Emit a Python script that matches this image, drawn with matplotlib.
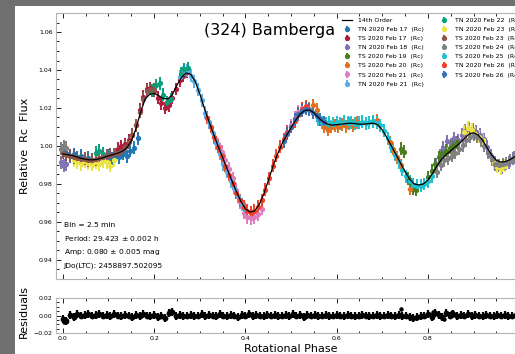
import numpy as np
import matplotlib
matplotlib.use('Agg')
import matplotlib.pyplot as plt
from matplotlib.patches import Rectangle
from matplotlib.ticker import MultipleLocator, FuncFormatter

# 14th order Fourier fit, every 0.01 in phase
fit_phase = np.round(np.arange(0.0, 1.0001, 0.01), 2)
fit_flux = [0.9958, 0.9955, 0.9950, 0.9943, 0.9935, 0.9930, 0.9927, 0.9928, 0.9933, 0.9940,
            0.9948, 0.9955, 0.9962, 0.9972, 0.9990, 1.0025, 1.0090, 1.0175, 1.0245, 1.0272,
            1.0277, 1.0265, 1.0250, 1.0248, 1.0270, 1.0320, 1.0360, 1.0385, 1.0378, 1.0340,
            1.0275, 1.0200, 1.0130, 1.0065, 1.0000, 0.9940, 0.9880, 0.9820, 0.9762, 0.9710,
            0.9670, 0.9652, 0.9658, 0.9690, 0.9745, 0.9815, 0.9890, 0.9955, 1.0010, 1.0055,
            1.0095, 1.0135, 1.0168, 1.0187, 1.0190, 1.0175, 1.0150, 1.0128, 1.0115, 1.0110,
            1.0112, 1.0115, 1.0118, 1.0120, 1.0118, 1.0115, 1.0115, 1.0118, 1.0120, 1.0112,
            1.0085, 1.0045, 1.0000, 0.9955, 0.9910, 0.9865, 0.9825, 0.9800, 0.9795, 0.9800,
            0.9820, 0.9855, 0.9895, 0.9930, 0.9955, 0.9975, 0.9995, 1.0015, 1.0040, 1.0062,
            1.0070, 1.0058, 1.0030, 0.9990, 0.9952, 0.9925, 0.9915, 0.9918, 0.9928, 0.9943,
            0.9958]

# observing sessions (phase, relative flux)
tn17_phase = [0.000, 0.008, 0.016, 0.024, 0.032, 0.040, 0.048, 0.056, 0.100, 0.108, 0.116,
              0.124, 0.132, 0.140, 0.148, 0.156, 0.164]
tn17_flux = [0.9975, 0.9962, 0.9945, 0.9958, 0.9940, 0.9950, 0.9925, 0.9938, 0.9950, 0.9935,
             0.9955, 0.9940, 0.9960, 0.9945, 0.9975, 0.9990, 1.0040]

ts17_phase = [0.120, 0.128, 0.136, 0.144, 0.152, 0.160, 0.168, 0.176, 0.184, 0.192, 0.200,
              0.208, 0.216, 0.224, 0.232, 0.240, 0.248, 0.256, 0.264, 0.272]
ts17_flux = [0.9985, 1.0000, 1.0010, 1.0030, 1.0060, 1.0110, 1.0190, 1.0260, 1.0300, 1.0305,
             1.0290, 1.0255, 1.0225, 1.0200, 1.0215, 1.0255, 1.0300, 1.0345, 1.0370, 1.0390]

tn18_phase = [-0.004, 0.002, 0.008, 0.810, 0.818, 0.826, 0.834, 0.842, 0.850, 0.858, 0.866,
              0.874, 0.882, 0.890, 0.898, 0.906, 0.914, 0.922, 0.930, 0.938, 0.946, 0.954,
              0.962, 0.970, 0.978, 0.986]
tn18_flux = [0.9915, 0.9895, 0.9905, 0.9870, 0.9905, 0.9950, 0.9990, 1.0025, 1.0010, 1.0040,
             1.0030, 1.0060, 1.0080, 1.0090, 1.0085, 1.0075, 1.0060, 1.0035, 0.9995, 0.9950,
             0.9915, 0.9895, 0.9885, 0.9900, 0.9915, 0.9935]

ts19_phase = [0.742, 0.748, 0.756, 0.762, 0.768, 0.774, 0.800, 0.808, 0.816, 0.824, 0.832,
              0.840, 0.848, 0.856, 0.864]
ts19_flux = [0.9985, 0.9970, 0.9830, 0.9800, 0.9775, 0.9770, 0.9835, 0.9870, 0.9905, 0.9940,
             0.9965, 0.9975, 0.9990, 1.0005, 1.0020]

ts20_phase = [0.540, 0.548, 0.556, 0.564, 0.572, 0.580, 0.588, 0.596, 0.604, 0.612, 0.620,
              0.628, 0.636, 0.644, 0.680, 0.688, 0.716, 0.724, 0.732, 0.740, 0.760]
ts20_flux = [1.0195, 1.0215, 1.0190, 1.0140, 1.0100, 1.0085, 1.0100, 1.0110, 1.0100, 1.0115,
             1.0105, 1.0120, 1.0110, 1.0125, 1.0130, 1.0135, 1.0020, 0.9985, 0.9940, 0.9900,
             0.9775]

ts21_phase = [0.340, 0.348, 0.356, 0.364, 0.372, 0.380, 0.388, 0.396, 0.404, 0.412, 0.420,
              0.428, 0.436, 0.500, 0.508, 0.516, 0.524, 0.532]
ts21_flux = [1.0010, 0.9970, 0.9925, 0.9880, 0.9830, 0.9770, 0.9705, 0.9650, 0.9625, 0.9620,
             0.9625, 0.9640, 0.9670, 1.0110, 1.0150, 1.0180, 1.0200, 1.0205]

tn21_phase = [0.256, 0.264, 0.272, 0.280, 0.288, 0.296, 0.304, 0.312, 0.320, 0.328, 0.336,
              0.344, 0.352, 0.360, 0.368, 0.376, 0.384, 0.392, 0.400]
tn21_flux = [1.0365, 1.0385, 1.0395, 1.0370, 1.0340, 1.0295, 1.0240, 1.0175, 1.0125, 1.0070,
             1.0015, 0.9960, 0.9905, 0.9865, 0.9815, 0.9780, 0.9735, 0.9690, 0.9670]

tn22_phase = [0.072, 0.080, 0.088, 0.196, 0.204, 0.212, 0.220, 0.228, 0.236, 0.258, 0.266,
              0.274]
tn22_flux = [0.9965, 0.9975, 0.9960, 1.0290, 1.0320, 1.0330, 1.0270, 1.0230, 1.0245, 1.0380,
             1.0405, 1.0410]

tn23_phase = [0.024, 0.032, 0.040, 0.048, 0.056, 0.064, 0.072, 0.080, 0.088, 0.096, 0.104,
              0.112, 0.880, 0.888, 0.896, 0.904, 0.912, 0.920, 0.944, 0.952, 0.960, 0.968]
tn23_flux = [0.9925, 0.9915, 0.9905, 0.9920, 0.9910, 0.9900, 0.9915, 0.9905, 0.9920, 0.9915,
             0.9895, 0.9925, 1.0075, 1.0095, 1.0085, 1.0065, 1.0050, 1.0030, 0.9910, 0.9890,
             0.9880, 0.9895]

ts23_phase = [0.000, 0.008, 0.016, 0.024, 0.032, 0.040, 0.048, 0.056, 0.064, 0.072, 0.080,
              0.088, 0.096, 0.104, 0.112, 0.120, 0.128, 0.136, 0.144, 0.152, 0.160, 0.168,
              0.176, 0.184, 0.192, 0.200]
ts23_flux = [0.9965, 0.9955, 0.9950, 0.9940, 0.9935, 0.9930, 0.9932, 0.9925, 0.9928, 0.9930,
             0.9935, 0.9940, 0.9948, 0.9955, 0.9958, 0.9965, 0.9975, 0.9995, 1.0020, 1.0060,
             1.0110, 1.0180, 1.0250, 1.0290, 1.0300, 1.0295]

ts24_phase = [-0.004, 0.002, 0.008, 0.820, 0.828, 0.836, 0.844, 0.852, 0.860, 0.868, 0.876,
              0.884, 0.892, 0.900, 0.908, 0.916, 0.924, 0.932, 0.940, 0.948, 0.956, 0.964,
              0.972, 0.980, 0.988, 0.996]
ts24_flux = [0.9985, 1.0000, 0.9990, 0.9865, 0.9900, 0.9925, 0.9935, 0.9950, 0.9965, 0.9985,
             1.0005, 1.0030, 1.0050, 1.0060, 1.0050, 1.0030, 1.0000, 0.9965, 0.9930, 0.9905,
             0.9900, 0.9905, 0.9910, 0.9925, 0.9940, 0.9960]

ts25_phase = [0.560, 0.568, 0.576, 0.584, 0.592, 0.600, 0.608, 0.616, 0.624, 0.632, 0.640,
              0.648, 0.656, 0.664, 0.672, 0.680, 0.688, 0.696, 0.704, 0.712, 0.720, 0.728,
              0.736, 0.744, 0.752, 0.760, 0.768, 0.776, 0.784, 0.792, 0.800, 0.808]
ts25_flux = [1.0140, 1.0125, 1.0120, 1.0125, 1.0118, 1.0125, 1.0120, 1.0128, 1.0122, 1.0125,
             1.0118, 1.0122, 1.0128, 1.0120, 1.0125, 1.0130, 1.0122, 1.0110, 1.0080, 1.0040,
             0.9995, 0.9955, 0.9915, 0.9875, 0.9840, 0.9815, 0.9795, 0.9790, 0.9792, 0.9800,
             0.9815, 0.9840]

tn26_phase = [0.316, 0.324, 0.332, 0.340, 0.348, 0.356, 0.364, 0.372, 0.380, 0.388, 0.396,
              0.404, 0.412, 0.420, 0.428, 0.436, 0.444, 0.452, 0.460, 0.468, 0.476, 0.484,
              0.492, 0.500, 0.508, 0.516, 0.524, 0.532]
tn26_flux = [1.0150, 1.0100, 1.0045, 0.9995, 0.9945, 0.9895, 0.9850, 0.9805, 0.9755, 0.9715,
             0.9680, 0.9660, 0.9650, 0.9660, 0.9680, 0.9715, 0.9770, 0.9830, 0.9895, 0.9950,
             0.9995, 1.0035, 1.0075, 1.0100, 1.0130, 1.0165, 1.0195, 1.0210]

ts26_phase = [0.484, 0.492, 0.500, 0.508, 0.516, 0.524, 0.532, 0.540, 0.548, 0.556, 0.564,
              0.572]
ts26_flux = [1.0025, 1.0065, 1.0100, 1.0140, 1.0170, 1.0185, 1.0195, 1.0190, 1.0175, 1.0160,
             1.0140, 1.0125]

session_labels = ['TN 2020 Feb 17  (Rc)', 'TS 2020 Feb 17  (Rc)', 'TN 2020 Feb 18  (Rc)',
                  'TS 2020 Feb 19  (Rc)', 'TS 2020 Feb 20  (Rc)', 'TS 2020 Feb 21  (Rc)',
                  'TN 2020 Feb 21  (Rc)', 'TN 2020 Feb 22  (Rc)', 'TN 2020 Feb 23  (Rc)',
                  'TS 2020 Feb 23  (Rc)', 'TS 2020 Feb 24  (Rc)', 'TS 2020 Feb 25  (Rc)',
                  'TN 2020 Feb 26  (Rc)', 'TS 2020 Feb 26  (Rc)']
session_phases = [tn17_phase, ts17_phase, tn18_phase, ts19_phase, ts20_phase, ts21_phase,
                  tn21_phase, tn22_phase, tn23_phase, ts23_phase, ts24_phase, ts25_phase,
                  tn26_phase, ts26_phase]
session_fluxes = [tn17_flux, ts17_flux, tn18_flux, ts19_flux, ts20_flux, ts21_flux,
                  tn21_flux, tn22_flux, tn23_flux, ts23_flux, ts24_flux, ts25_flux,
                  tn26_flux, ts26_flux]
flux_err = 0.0034

# residuals, one every 0.008 in phase
resid_phase = np.round(np.arange(125) * 0.008, 3)
resid = [-0.004, -0.006, 0.001, -0.002, 0.002, 0.000, 0.001, 0.002, 0.000, 0.001,
         0.002, 0.000, 0.001, -0.001, 0.002, 0.000, -0.001, 0.001, 0.000, -0.002,
         0.001, -0.001, 0.002, 0.000, -0.001, 0.001, -0.002, 0.000, -0.003, 0.003,
         0.004, -0.001, 0.001, -0.001, 0.000, 0.001, -0.001, 0.000, 0.002, -0.001,
         0.001, 0.000, -0.001, 0.002, 0.000, -0.001, 0.001, 0.000, -0.002, 0.001,
         0.000, 0.002, -0.001, 0.001, 0.000, -0.001, 0.001, 0.000, 0.001, -0.001,
         0.000, 0.001, -0.001, 0.002, 0.000, 0.001, -0.002, 0.001, 0.000, 0.001,
         -0.001, 0.000, 0.001, -0.001, 0.000, 0.001, 0.000, -0.001, 0.001, 0.000,
         -0.001, 0.000, 0.001, 0.000, -0.001, 0.000, 0.001, -0.001, 0.000, 0.001,
         0.000, -0.001, 0.001, -0.001, 0.000, -0.002, -0.003, -0.002, -0.001, 0.000,
         0.002, -0.002, 0.003, 0.001, -0.002, 0.003, 0.000, 0.002, -0.001, 0.001,
         0.000, 0.002, -0.001, 0.001, 0.000, -0.001, 0.001, 0.000, -0.001, 0.001,
         0.000, 0.001, -0.001, 0.000, 0.001]
extra_phase = [0.002, 0.006, 0.236, 0.741, 0.812, 0.836, 0.852]
extra_resid = [-0.007, -0.005, 0.005, 0.008, 0.004, -0.004, 0.004]

info_lines = ['Bin = 2.5 min', 'Period: 29.423 $\\pm$ 0.002 h',
              'Amp: 0.080 $\\pm$ 0.005 mag', 'JDo(LTC): 2458897.502095']

colors = ['#1f77b4', '#b01c3c', '#8172b3', '#4b7d1e', '#e0701e', '#e07bc0', '#5aaee8',
          '#07a07a', '#ede444', '#8c564b', '#808080', '#1fc0d0', '#f0402a', '#3a70b5']

W, H = 515, 354
fig = plt.figure(figsize=(W / 100, H / 100), dpi=100, facecolor='#6f6f6f')
# white page inside the grey window border
fig.add_artist(Rectangle((15 / W, 0), 1, 1 - 6 / H, transform=fig.transFigure,
                         facecolor='white', edgecolor='none', zorder=0))

left, width = 56 / W, 470 / W
ax = fig.add_axes([left, 1 - 279 / H, width, 266 / H])
axr = fig.add_axes([left, 1 - 333 / H, width, 35 / H])

fit_line, = ax.plot(fit_phase, fit_flux, color='black', lw=0.9, zorder=5, label='14th Order')
handles = [fit_line]
for ph, fl, lab, c in zip(session_phases, session_fluxes, session_labels, colors):
    h = ax.errorbar(ph, fl, yerr=flux_err, fmt='o', ms=3.8, color=c, ecolor=c,
                    elinewidth=1.4, capsize=1.0, mew=0, label=lab)
    handles.append(h)

axr.errorbar(resid_phase, resid, yerr=0.0045, fmt='o', ms=4.2, color='black',
             elinewidth=1.6, capsize=0, mew=0)
axr.errorbar(extra_phase, extra_resid, yerr=0.002, fmt='o', ms=3.2, color='black',
             elinewidth=1.0, capsize=0, mew=0)

for a in (ax, axr):
    a.set_xlim(-0.015, 1.015)
    a.xaxis.set_major_locator(MultipleLocator(0.2))
    a.xaxis.set_minor_locator(MultipleLocator(0.05))
    a.tick_params(which='both', direction='in', top=True, right=True, labelsize=4.5,
                  width=0.6, pad=2.5)
    a.tick_params(which='major', length=3.5)
    a.tick_params(which='minor', length=1.8)
    for s in a.spines.values():
        s.set_color('#b5b5b5')
        s.set_linewidth(0.8)

ax.set_ylim(0.93, 1.07)
ax.yaxis.set_major_locator(MultipleLocator(0.02))
ax.yaxis.set_minor_locator(MultipleLocator(0.005))
ax.yaxis.set_major_formatter(FuncFormatter(lambda v, p: f'{v:.2f}'))
ax.tick_params(axis='x', labelbottom=False)
ax.set_ylabel('Relative  Rc  Flux', fontsize=8)
ax.yaxis.set_label_coords(-0.055, 0.5)

axr.set_ylim(-0.02, 0.02)
axr.yaxis.set_major_locator(MultipleLocator(0.02))
axr.yaxis.set_minor_locator(MultipleLocator(0.005))
axr.yaxis.set_major_formatter(FuncFormatter(lambda v, p: f'{v:.2f}'.replace('-', '\u2212')))
axr.xaxis.set_major_formatter(FuncFormatter(lambda v, p: f'{v:.1f}'))
axr.set_ylabel('Residuals', fontsize=8)
axr.yaxis.set_label_coords(-0.057, 0.6)
axr.set_xlabel('Rotational Phase', fontsize=8, labelpad=1.5)

ax.text((270 - 56) / 470, (279 - 30) / 266, '(324) Bamberga', transform=ax.transAxes,
        ha='center', va='center', fontsize=11.5)

for i, line in enumerate(info_lines):
    ax.text(0.016, (279 - 225 - 13.5 * i) / 266, line, transform=ax.transAxes,
            ha='left', va='center', fontsize=5.4)

ax.legend(handles=handles, loc='upper left', bbox_to_anchor=(342 / W, 1 - 17.5 / H),
          bbox_transform=fig.transFigure, ncol=2, frameon=False, fontsize=4.5,
          borderpad=0, borderaxespad=0, labelspacing=0.6, handlelength=1.6,
          handletextpad=1.0, columnspacing=2.4)

fig.savefig('out.png', dpi=100, facecolor=fig.get_facecolor())
